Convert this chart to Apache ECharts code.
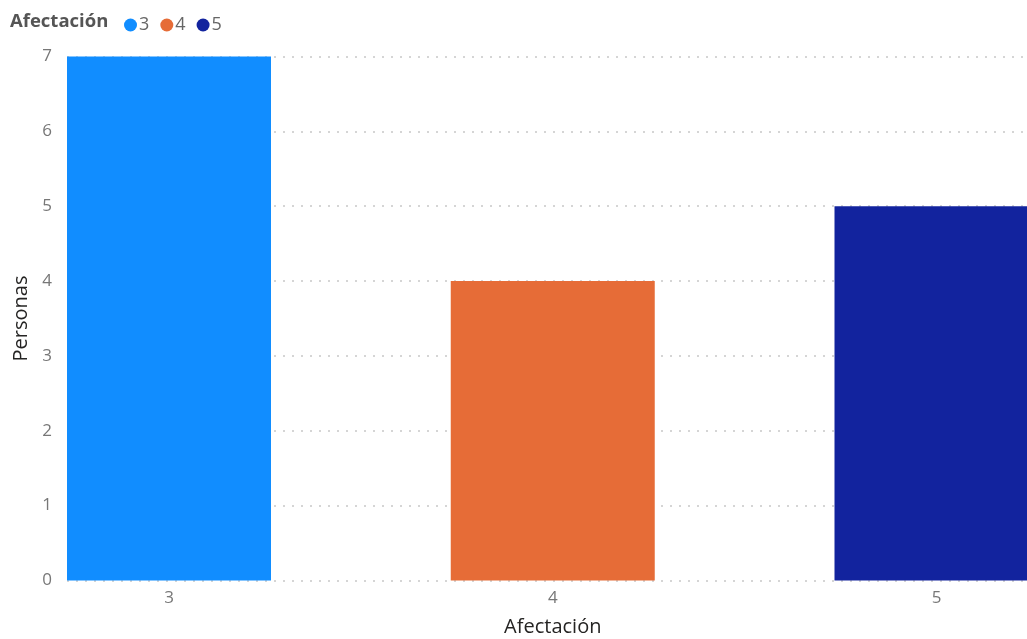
<!DOCTYPE html>
<html>
<head>
<meta charset="utf-8">
<script src="https://cdn.jsdelivr.net/npm/echarts@6/dist/echarts.min.js"></script>
<style>
html,body{margin:0;padding:0;background:#fff;}
#chart{width:1027px;height:639px;}
</style>
</head>
<body>
<div id="chart"></div>
<script>
const categories = ['3', '4', '5'];
const values = [7, 4, 5];
const colors = ['#118DFF', '#E66C37', '#12239E'];
const yTicks = { min: 0, max: 7, interval: 1 };
const legendTitle = 'Afectación';
const xTitle = 'Afectación';
const yTitle = 'Personas';

const FONT = '"Segoe UI", "Open Sans", "Noto Sans", sans-serif';
const chart = echarts.init(document.getElementById('chart'));

const series = categories.map((c, i) => ({
  name: c,
  type: 'bar',
  xAxisIndex: 1,
  yAxisIndex: 1,
  stack: 'all',
  barWidth: 204,
  itemStyle: { color: colors[i] },
  data: categories.map((cc, j) => (j === i ? values[j] : null))
}));

chart.setOption({
  animation: false,
  title: {
    text: legendTitle,
    left: 5, top: 7,
    textStyle: { fontFamily: FONT, fontSize: 18.5, fontWeight: 'bold', color: '#555555' }
  },
  legend: {
    data: categories,
    left: 119, top: 11,
    icon: 'circle',
    itemWidth: 13, itemHeight: 13,
    itemGap: 11,
    textStyle: { fontFamily: FONT, fontSize: 18, color: '#666666', padding: [0, 0, 0, -3] }
  },
  grid: [
    { left: 67, right: 0, top: 56.5, bottom: 58.5, outerBoundsMode: 'none', containLabel: false },
    { left: -22.875, right: -101.375, top: 56.5, bottom: 58.5, outerBoundsMode: 'none', containLabel: false }
  ],
  xAxis: [
    { gridIndex: 0, type: 'category', data: categories, show: false },
    {
      gridIndex: 1, type: 'category', data: categories,
      axisLine: { show: false }, axisTick: { show: false },
      axisLabel: { margin: 9, fontFamily: FONT, fontSize: 17, color: '#777777' },
      name: xTitle, nameLocation: 'middle', nameGap: 37,
      nameTextStyle: { fontFamily: FONT, fontSize: 20, color: '#252423' }
    }
  ],
  yAxis: [
    {
      gridIndex: 0, type: 'value', min: yTicks.min, max: yTicks.max, interval: yTicks.interval,
      axisLine: { show: false }, axisTick: { show: false },
      axisLabel: { margin: 15, fontFamily: FONT, fontSize: 17, color: '#777777' },
      splitLine: { show: true, lineStyle: { color: '#C8C8C8', type: [2, 7], width: 1.5 } },
      name: yTitle, nameLocation: 'middle', nameGap: 36, nameRotate: 90,
      nameTextStyle: { fontFamily: FONT, fontSize: 20, color: '#252423' }
    },
    { gridIndex: 1, type: 'value', min: yTicks.min, max: yTicks.max, interval: yTicks.interval, show: false }
  ],
  series: series
});
</script>
</body>
</html>
